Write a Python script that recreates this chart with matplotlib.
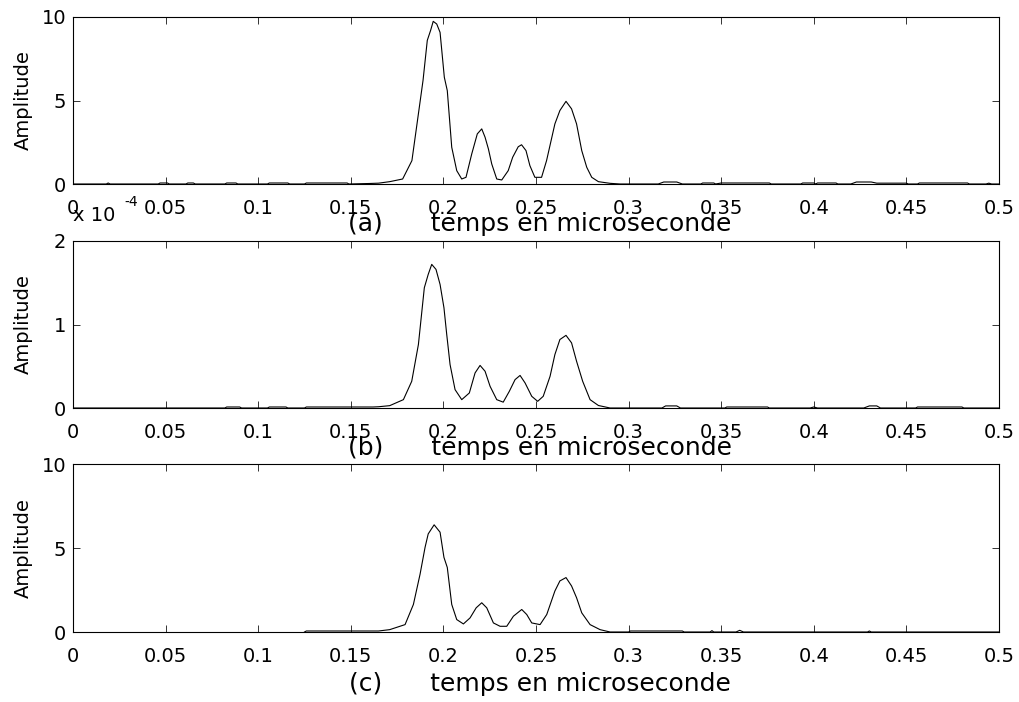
import numpy as np
import matplotlib
matplotlib.use("Agg")
import matplotlib.pyplot as plt

plt.rcParams['font.family'] = ['DejaVu Sans']
plt.rcParams['font.size'] = 14

# time axis values (microseconds) and amplitudes
t_a = [0, 0.018, 0.019, 0.020, 0.046, 0.047, 0.051, 0.052, 0.061, 0.062, 0.065, 0.066,
       0.082, 0.083, 0.088, 0.089, 0.105, 0.106, 0.116, 0.117, 0.125, 0.126, 0.148, 0.149,
       0.160, 0.165, 0.171, 0.178, 0.183, 0.1865, 0.189, 0.1913, 0.1931, 0.1945, 0.1964,
       0.1982, 0.2005, 0.2021, 0.2045, 0.2072, 0.2099, 0.2122, 0.2153, 0.2183, 0.2207,
       0.2225, 0.2243, 0.2261, 0.2288, 0.2315, 0.2350, 0.2374, 0.2404, 0.2422, 0.2446,
       0.2467, 0.2494, 0.2530, 0.2557, 0.2602, 0.2629, 0.2662, 0.2692, 0.2719, 0.2747,
       0.2774, 0.2801, 0.2837, 0.290, 0.2954, 0.316, 0.319, 0.326, 0.329, 0.339, 0.340,
       0.346, 0.347, 0.350, 0.376, 0.377, 0.393, 0.394, 0.400, 0.401, 0.402, 0.412, 0.413,
       0.420, 0.423, 0.431, 0.434, 0.450, 0.451, 0.456, 0.457, 0.483, 0.484, 0.493, 0.4945,
       0.496, 0.5]
amp_a = [0, 0, 0.06, 0, 0, 0.06, 0.06, 0, 0, 0.06, 0.06, 0,
         0, 0.06, 0.06, 0, 0, 0.06, 0.06, 0, 0, 0.06, 0.06, 0,
         0.03, 0.05, 0.14, 0.3, 1.4, 4.2, 6.2, 8.6, 9.2, 9.74, 9.58,
         9.08, 6.39, 5.59, 2.2, 0.8, 0.3, 0.4, 1.8, 3.0, 3.3,
         2.8, 2.1, 1.2, 0.3, 0.24, 0.8, 1.6, 2.23, 2.35, 2.0,
         1.1, 0.4, 0.4, 1.4, 3.6, 4.4, 4.95, 4.5, 3.6, 2.0,
         1.0, 0.4, 0.14, 0.04, 0, 0, 0.12, 0.12, 0, 0, 0.06,
         0.06, 0, 0.06, 0.06, 0, 0, 0.06, 0.06, 0, 0.06, 0.06, 0,
         0, 0.12, 0.12, 0.05, 0.05, 0, 0, 0.06, 0.06, 0, 0, 0.05,
         0, 0]

# panel (b) amplitudes are in units of 1e-4
t_b = [0, 0.082, 0.083, 0.090, 0.091, 0.105, 0.106, 0.115, 0.116, 0.125, 0.126, 0.162,
       0.165, 0.171, 0.1784, 0.1829, 0.1865, 0.1897, 0.1918, 0.1937, 0.196, 0.1982, 0.2003,
       0.2018, 0.2036, 0.2063, 0.2099, 0.214, 0.2171, 0.2198, 0.2225, 0.2252, 0.2288,
       0.2323, 0.2356, 0.2387, 0.2414, 0.2441, 0.2477, 0.2509, 0.2539, 0.2576, 0.2602,
       0.2629, 0.2662, 0.2692, 0.2719, 0.2752, 0.2792, 0.2837, 0.290, 0.318, 0.320, 0.326,
       0.328, 0.352, 0.353, 0.375, 0.376, 0.398, 0.400, 0.402, 0.427, 0.430, 0.434, 0.436,
       0.455, 0.456, 0.480, 0.481, 0.5]
amp_b = [0, 0, 0.012, 0.012, 0, 0, 0.012, 0.012, 0, 0, 0.012, 0.012,
         0.015, 0.028, 0.1, 0.32, 0.76, 1.44, 1.6, 1.72, 1.66, 1.48, 1.2,
         0.88, 0.52, 0.22, 0.1, 0.18, 0.42, 0.51, 0.44, 0.26, 0.1,
         0.07, 0.2, 0.34, 0.39, 0.3, 0.14, 0.08, 0.14, 0.38, 0.64,
         0.82, 0.87, 0.78, 0.56, 0.32, 0.1, 0.03, 0, 0, 0.025, 0.025,
         0, 0, 0.012, 0.012, 0, 0, 0.012, 0, 0, 0.025, 0.025, 0,
         0, 0.012, 0.012, 0, 0]

t_c = [0.125, 0.126, 0.165, 0.171, 0.1793, 0.1838, 0.1874, 0.1901, 0.1918, 0.195, 0.1982,
       0.2003, 0.2021, 0.2045, 0.2072, 0.2108, 0.2144, 0.2177, 0.2207, 0.2234, 0.227,
       0.2306, 0.2342, 0.2378, 0.2423, 0.245, 0.2477, 0.2522, 0.2558, 0.2602, 0.2629,
       0.2662, 0.2692, 0.2719, 0.2747, 0.2792, 0.2846, 0.290, 0.300, 0.301, 0.329, 0.330,
       0.344, 0.345, 0.346, 0.358, 0.360, 0.362, 0.429, 0.430, 0.431, 0.5]
amp_c = [0, 0.06, 0.06, 0.14, 0.44, 1.64, 3.44, 5.04, 5.84, 6.38, 5.94,
         4.44, 3.84, 1.64, 0.74, 0.48, 0.84, 1.44, 1.74, 1.44, 0.54,
         0.34, 0.34, 0.94, 1.34, 1.04, 0.54, 0.44, 1.04, 2.44, 3.04,
         3.24, 2.74, 2.04, 1.14, 0.44, 0.14, 0, 0, 0.06, 0.06, 0,
         0, 0.08, 0, 0, 0.1, 0, 0, 0.06, 0, 0]

labels = ["(a)      temps en microseconde",
          "(b)      temps en microseconde",
          "(c)      temps en microseconde"]
ylims = [10, 2, 10]
yticks = [[0, 5, 10], [0, 1, 2], [0, 5, 10]]
xticks = [0, 0.05, 0.1, 0.15, 0.2, 0.25, 0.3, 0.35, 0.4, 0.45, 0.5]
xticklabels = ["0", "0.05", "0.1", "0.15", "0.2", "0.25", "0.3", "0.35", "0.4", "0.45", "0.5"]

fig = plt.figure(figsize=(10.2, 7.02), dpi=100)
W, H = 1020.0, 702.0
# axes boxes in pixels: (top, bottom)
boxes = [(17, 184), (241, 408), (464, 632)]
label_y = [-0.165, -0.17, -0.238]

series = [(t_a, amp_a), (t_b, amp_b), (t_c, amp_c)]
for i, ((t, a), (top, bot)) in enumerate(zip(series, boxes)):
    ax = fig.add_axes([73 / W, 1 - bot / H, 926 / W, (bot - top) / H])
    ax.plot(t, a, color='black', lw=0.8)
    ax.set_xlim(0, 0.5)
    ax.set_ylim(0, ylims[i])
    ax.set_xticks(xticks)
    ax.set_xticklabels(xticklabels)
    ax.set_yticks(yticks[i])
    ax.set_yticklabels([str(v) for v in yticks[i]])
    ax.tick_params(direction='in', length=5, width=0.7, color='#333333',
                   top=True, right=True)
    ax.tick_params(axis='x', pad=11)
    ax.tick_params(axis='y', pad=5)
    for s in ax.spines.values():
        s.set_linewidth(0.8)
        s.set_color('black')
    ax.set_ylabel("Amplitude", fontsize=14)
    ax.yaxis.set_label_coords(-0.043, 0.5)
    ax.set_xlabel(labels[i], fontsize=18)
    ax.xaxis.set_label_coords(0.504, label_y[i])
    if i == 1:
        fig.text(73 / W, 1 - 221 / H, "x 10", fontsize=14, ha='left', va='baseline')
        fig.text(124 / W, 1 - 206 / H, "-4", fontsize=10, ha='left', va='baseline')

fig.savefig("out.png", dpi=100)
